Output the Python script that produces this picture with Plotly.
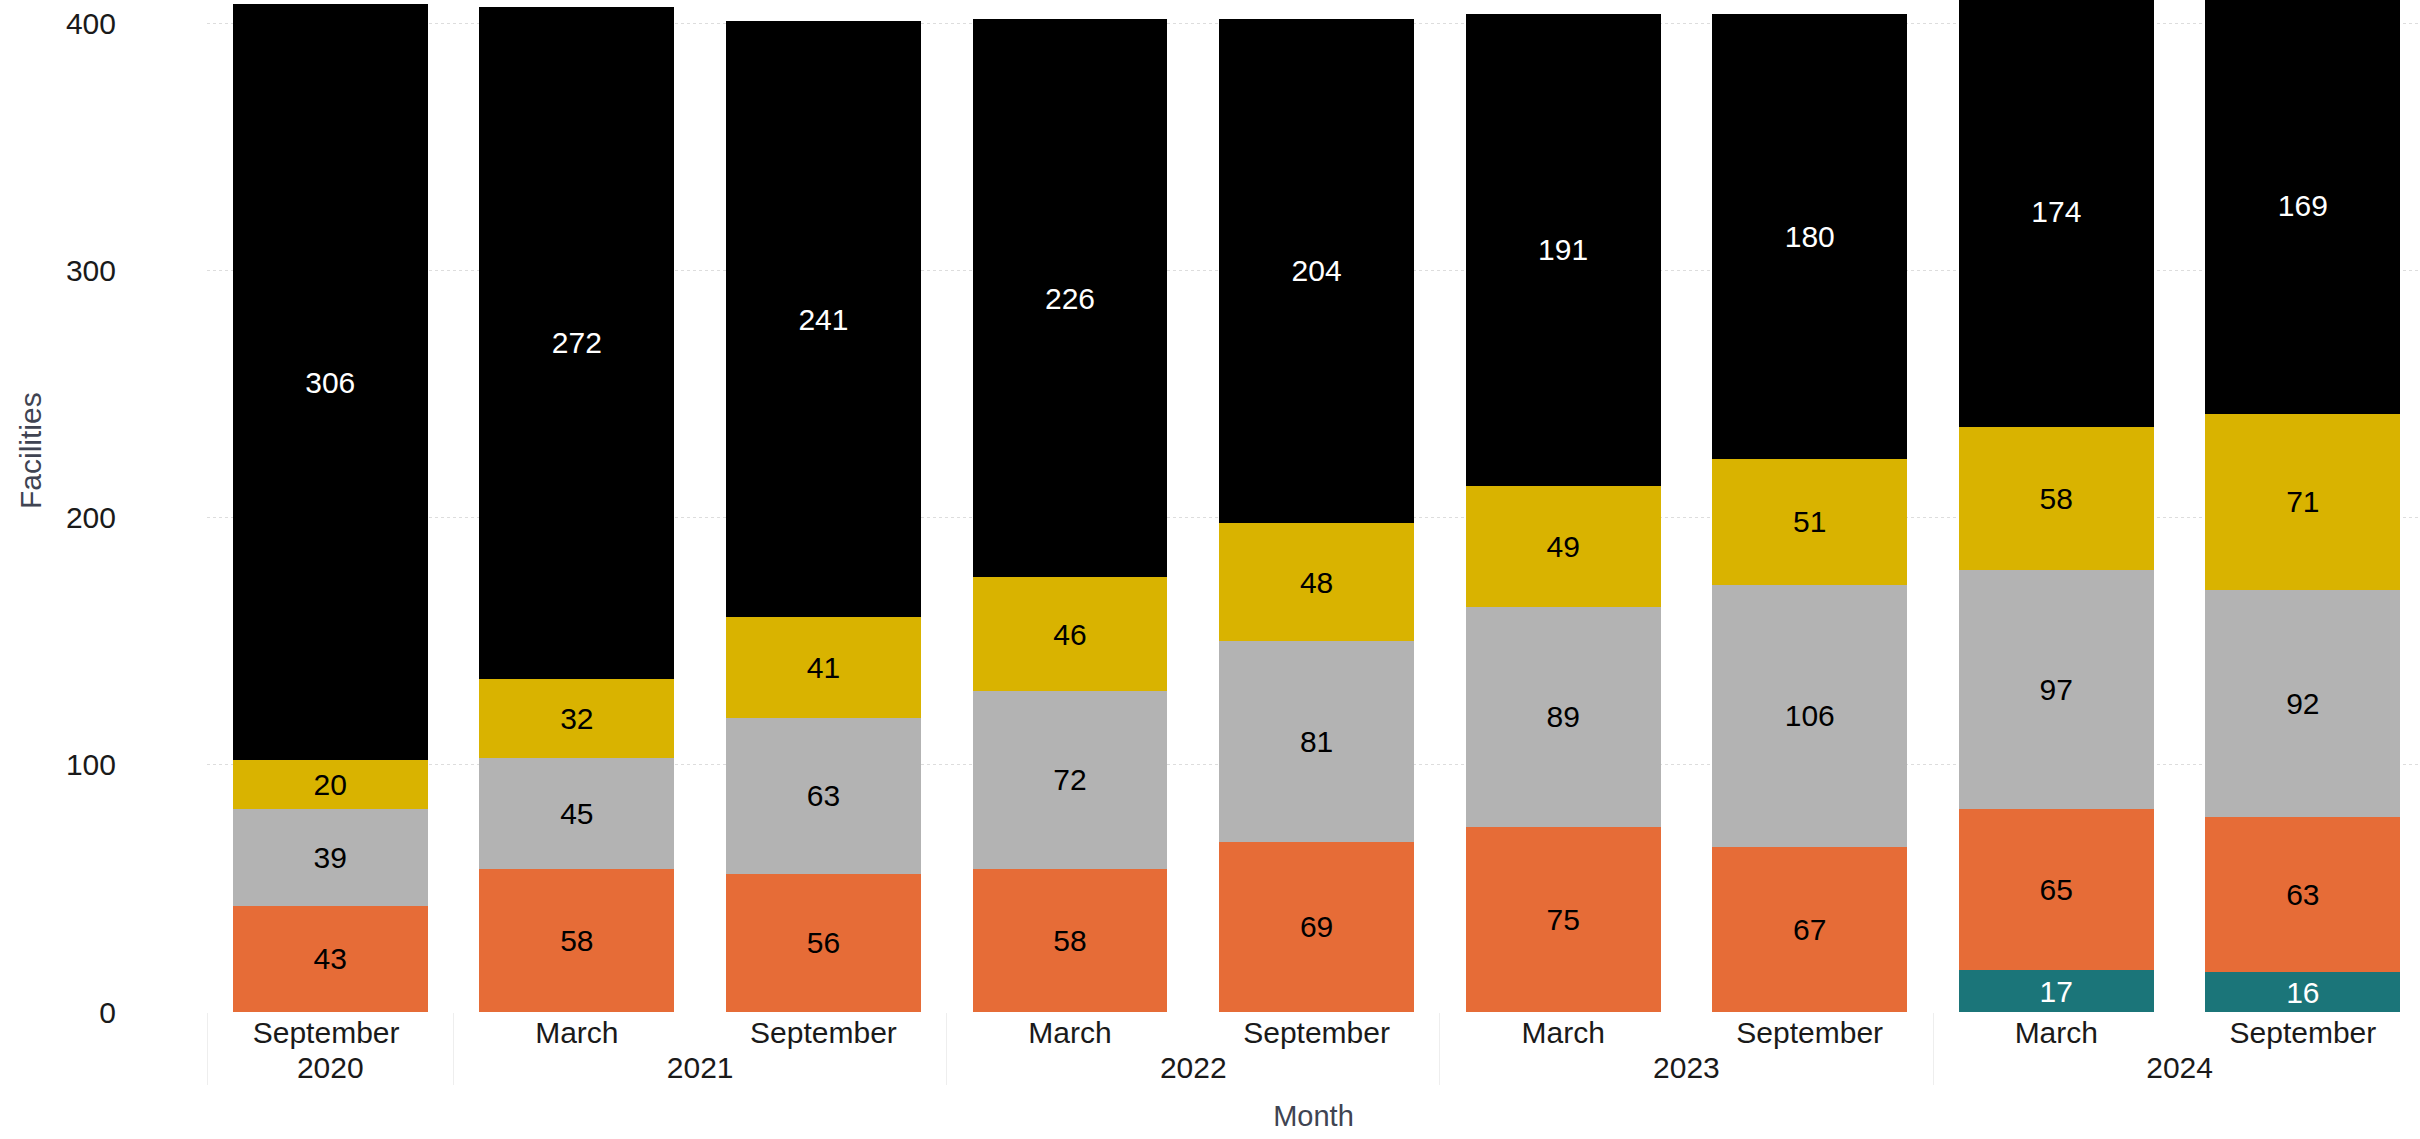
import plotly.graph_objects as go

years = ["2020", "2021", "2021", "2022", "2022", "2023", "2023", "2024", "2024"]
# the 2020 label carries a trailing space so Plotly's multicategory axis
# orders the inner labels March before September in every later year
months = ["September ", "March", "September", "March", "September",
          "March", "September", "March", "September"]

# stacked segments, bottom to top
teal_vals = [None, None, None, None, None, None, None, 17, 16]
orange_vals = [43, 58, 56, 58, 69, 75, 67, 65, 63]
gray_vals = [39, 45, 63, 72, 81, 89, 106, 97, 92]
yellow_vals = [20, 32, 41, 46, 48, 49, 51, 58, 71]
black_vals = [306, 272, 241, 226, 204, 191, 180, 174, 169]

series = [
    ("Series 1", teal_vals, "#1B7579", "#FFFFFF"),
    ("Series 2", orange_vals, "#E66C37", "#000000"),
    ("Series 3", gray_vals, "#B3B3B3", "#000000"),
    ("Series 4", yellow_vals, "#D9B300", "#000000"),
    ("Series 5", black_vals, "#000000", "#FFFFFF"),
]

FONT = "Arial, Liberation Sans, sans-serif"

fig = go.Figure()
for name, vals, color, tcolor in series:
    fig.add_trace(go.Bar(
        name=name,
        x=[years, months],
        y=vals,
        marker=dict(color=color, line=dict(width=0)),
        text=[("" if v is None else str(v)) for v in vals],
        textposition="inside",
        insidetextanchor="middle",
        textangle=0,
        constraintext="none",
        textfont=dict(family=FONT, size=30, color=tcolor),
        hoverinfo="skip",
    ))

fig.update_layout(
    barmode="stack",
    bargap=0.21,
    width=2420,
    height=1139,
    margin=dict(l=207, r=0, t=0, b=127),
    plot_bgcolor="white",
    paper_bgcolor="white",
    showlegend=False,
    font=dict(family=FONT, color="#000000"),
)

fig.update_xaxes(
    type="multicategory",
    range=[-0.5, 8.475],
    showgrid=False,
    showline=False,
    zeroline=False,
    ticks="outside",
    ticklen=9,
    tickwidth=1,
    tickcolor="rgba(255,255,255,0)",
    tickfont=dict(family=FONT, size=30, color="#1a1a1a"),
    showdividers=True,
    dividercolor="#eeeeee",
    dividerwidth=1,
    title=dict(text="Month", font=dict(family=FONT, size=29, color="#404452"), standoff=22),
)

fig.update_yaxes(
    range=[0, 409.7],
    tickvals=[0, 100, 200, 300, 400],
    showgrid=True,
    gridcolor="#dddddd",
    griddash="dot",
    gridwidth=1,
    zeroline=False,
    showline=False,
    ticks="",
    ticklabelstandoff=90,
    tickfont=dict(family=FONT, size=30, color="#1a1a1a"),
)

fig.add_annotation(
    text="Facilities",
    xref="paper", yref="paper",
    x=-207 / 2213 + 30 / 2213, y=1 - 451 / 1012,
    xanchor="center", yanchor="middle",
    textangle=-90,
    showarrow=False,
    font=dict(family=FONT, size=30, color="#404452"),
)

fig.write_html(
    "out.html",
    config={"displayModeBar": False},
    post_script="document.body.style.margin='0';"
                "document.documentElement.style.overflow='hidden';",
)
